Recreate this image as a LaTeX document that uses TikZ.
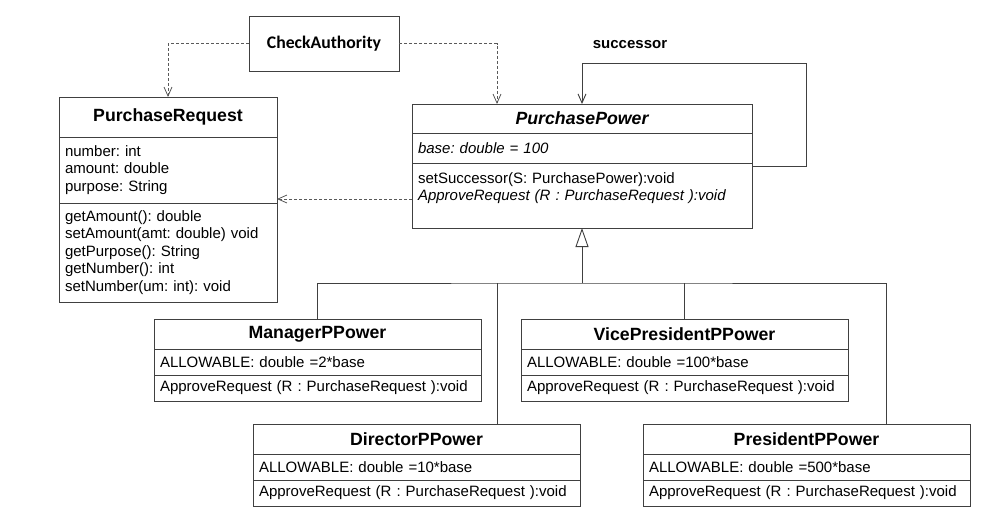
\documentclass[tikz,border=0pt]{standalone}
\usepackage{fontspec}
\setmainfont{Liberation Sans}
\newfontfamily\calibrifont{Carlito}
\usetikzlibrary{arrows.meta,calc,positioning}
\frenchspacing

\tikzset{
  part/.style={draw=black!75, line width=0.9pt, rectangle, inner xsep=6pt, inner ysep=2pt, outer sep=0pt, align=left, font=\fontsize{15}{17.5}\selectfont},
  head/.style={part, align=center, font=\fontsize{17.7}{20}\selectfont\bfseries},
  dep/.style={draw=black!65, line width=0.8pt, dash pattern=on 3pt off 2pt, -{Straight Barb[length=9pt,width=8pt]}},
  assoc/.style={draw=black!75, line width=0.9pt, -{Straight Barb[length=9pt,width=8pt]}},
  link/.style={draw=black!75, line width=0.9pt},
  gen/.style={link, -{Triangle[open,length=19pt,width=13pt,fill=white]}},
}

\begin{document}
\begin{tikzpicture}[x=1pt,y=-1pt]
\useasboundingbox (0,0) rectangle (992,522);

% interface on top
\node[draw=black!75, line width=0.9pt, minimum width=150pt, minimum height=55pt, font=\calibrifont\fontsize{17.7}{20}\selectfont\bfseries] (ca) at (324,43.5) {CheckAuthority};
\node[font=\fontsize{15}{18}\selectfont\bfseries] (succ) at (630,45) {successor};

% request class
\node[head, text width=206pt, minimum height=40pt, anchor=north west] (pr) at (59,97) {PurchaseRequest};
\node[part, text width=206pt, minimum height=66pt, below=0pt of pr] (pr-a) {number: int\\amount: double\\purpose: String};
\node[part, text width=206pt, minimum height=99pt, below=0pt of pr-a] (pr-o) {getAmount(): double\\setAmount(amt: double) void\\getPurpose(): String\\getNumber(): int\\setNumber(um: int): void};

% abstract handler
\node[head, text width=328pt, minimum height=29pt, anchor=north west, font=\fontsize{17.7}{20}\selectfont\bfseries\itshape] (pp) at (412,104) {PurchasePower};
\node[part, text width=328pt, minimum height=30pt, below=0pt of pp, font=\fontsize{15}{17.5}\selectfont\itshape] (pp-a) {base: double = 100};
\node[part, text width=328pt, minimum height=65pt, below=0pt of pp-a] (pp-o) {setSuccessor(S: PurchasePower):void\\\textit{ApproveRequest (R : PurchaseRequest ):void}\\\mbox{}};

% concrete handlers
\foreach \nm/\title/\x/\y/\k in {mgr/ManagerPPower/154/319/2, vp/VicePresidentPPower/521/319/100, dir/DirectorPPower/253/424/10, pres/PresidentPPower/643/424/500}{
  \node[head, text width=315pt, minimum height=30pt, anchor=north west] (\nm) at (\x,\y) {\title};
  \node[part, text width=315pt, minimum height=26pt, below=0pt of \nm] (\nm-a) {ALLOWABLE: double =\k*base};
  \node[part, text width=315pt, minimum height=26pt, below=0pt of \nm-a] (\nm-o) {ApproveRequest (R : PurchaseRequest ):void};
}

% dependencies
\draw[dep] (ca.west) -| (pr.north);
\coordinate (pp-in) at ($(pp.north west)+(85,0)$);
\draw[dep] (ca.east) -| (pp-in);
\coordinate (use) at ($(pp-o.west)+(0,3.5)$);
\draw[dep] (use) -- (use -| pr-a.east);

% self association
\coordinate (loop) at ($(pp-o.north east)+(0,3)$);
\draw[assoc] (loop) -- ++(54,0) -- ++(0,-103) -| (pp.north);

% inheritance
\coordinate (bus) at ($(pp-o.south)+(0,55)$);
\coordinate (dir-in) at ($(dir.north)+(81,0)$);
\coordinate (pres-in) at ($(pres.north)+(80,0)$);
\draw[link] (mgr.north) |- (bus) -| (pres-in);
\draw[link] (dir-in) -- (dir-in |- bus);
\draw[link] (vp.north) -- (vp.north |- bus);
\draw[gen] (bus) -- (pp-o.south);
\end{tikzpicture}
\end{document}
